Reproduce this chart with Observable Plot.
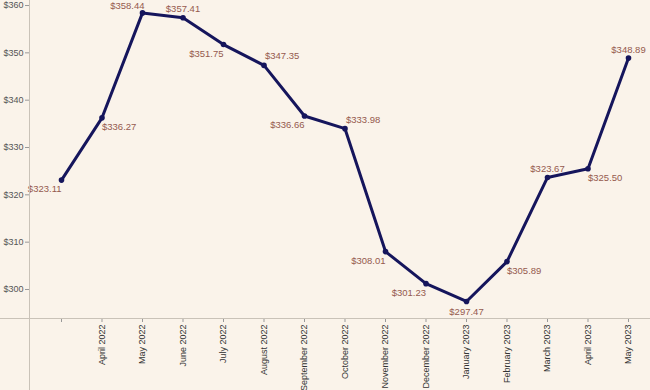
<!DOCTYPE html>
<html>
<head>
<meta charset="utf-8">
<script src="https://cdn.jsdelivr.net/npm/d3@7"></script>
<script src="https://cdn.jsdelivr.net/npm/@observablehq/plot@0.6"></script>
<style>
  html, body { margin: 0; padding: 0; background: #faf3ea; }
  #chart { width: 650px; height: 390px; }
</style>
</head>
<body>
<div id="chart"></div>
<script>
const categories = ["March 2022", "April 2022", "May 2022", "June 2022", "July 2022", "August 2022",
  "September 2022", "October 2022", "November 2022", "December 2022", "January 2023",
  "February 2023", "March 2023", "April 2023", "May 2023"];
const prices = [323.11, 336.27, 358.44, 357.41, 351.75, 347.35, 336.66, 333.98, 308.01, 301.23,
  297.47, 305.89, 323.67, 325.50, 348.89];
const tickLabels = ["", "April 2022", "May 2022", "June 2022", "July 2022", "August 2022",
  "September 2022", "October 2022", "November 2022", "December 2022", "January 2023",
  "February 2023", "March 2023", "April 2023", "May 2023"];
const yTicks = [300, 310, 320, 330, 340, 350, 360];
const labelPlacement = ["bl", "br", "tl", "t", "bl", "tr", "bl", "tr", "bl", "bl", "b", "br", "t", "br", "t"];

const data = categories.map((c, i) => ({month: c, price: prices[i], place: labelPlacement[i]}));

const placements = {
  bl: {textAnchor: "end", dx: 0, dy: 9},
  br: {textAnchor: "start", dx: 0, dy: 9},
  tl: {textAnchor: "end", dx: 2, dy: -7},
  tr: {textAnchor: "start", dx: 1, dy: -9},
  t:  {textAnchor: "middle", dx: 0, dy: -8.5},
  b:  {textAnchor: "middle", dx: 0, dy: 10}
};

const labelColor = "#955a4e";
const lineColor = "#15155c";

const labelMarks = Object.entries(placements).map(([code, opt]) =>
  Plot.text(data.filter(d => d.place === code), {
    x: "month", y: "price",
    text: d => "$" + d.price.toFixed(2),
    fill: labelColor, fontSize: 9.5, ...opt
  })
);

const chart = Plot.plot({
  width: 650,
  height: 390,
  marginLeft: 29,
  marginRight: 22,
  marginTop: 0,
  marginBottom: 72,
  style: {background: "#faf3ea", fontFamily: "Liberation Sans, Arial, sans-serif", fontSize: "9px", overflow: "visible"},
  x: {type: "point", domain: categories, padding: 0, round: false, insetLeft: 32},
  y: {domain: [293.87, 361.06]},
  marks: [
    Plot.axisY({ticks: yTicks, tickFormat: d => "$" + d, tickSize: 4, tickPadding: 2, label: null, stroke: "#999", fill: "#555", fontSize: 9}),
    Plot.axisX({tickRotate: -90, tickFormat: d => tickLabels[categories.indexOf(d)], tickSize: 4, tickPadding: 2, label: null, stroke: "#999", fill: "#333", fontSize: 9}),
    Plot.line(data, {x: "month", y: "price", stroke: lineColor, strokeWidth: 3}),
    Plot.dot(data, {x: "month", y: "price", fill: lineColor, r: 2.8}),
    ...labelMarks
  ]
});

const svg = d3.select(chart);
svg.append("line").attr("x1", 0).attr("x2", 650).attr("y1", 318.5).attr("y2", 318.5)
  .attr("stroke", "#c9c2b8").attr("stroke-width", 1);
svg.append("line").attr("x1", 29.5).attr("x2", 29.5).attr("y1", 0).attr("y2", 390)
  .attr("stroke", "#c9c2b8").attr("stroke-width", 1);

document.getElementById("chart").appendChild(chart);
</script>
</body>
</html>
